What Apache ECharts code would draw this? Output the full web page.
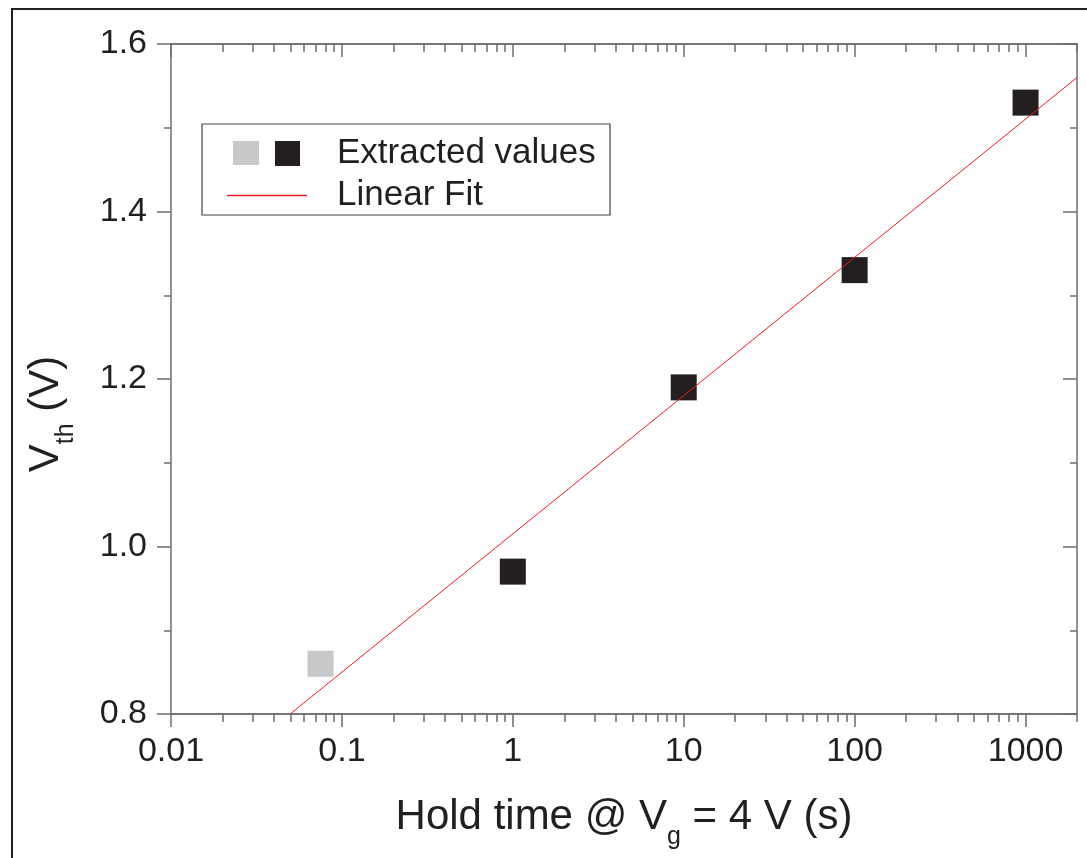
<!DOCTYPE html>
<html>

<head>
    <meta charset="UTF-8" />
    <script src="https://cdn.jsdelivr.net/npm/echarts@6/dist/echarts.min.js"></script>
</head>

<body style="margin: 0; overflow: hidden; background: #fff;">
    <div id="chart" style="width: 1087px; height: 858px;"></div>
    <script type="text/javascript">

        // data
        const holdTime = [0.075, 1, 10, 100, 1000];
        const vth = [0.86, 0.97, 1.19, 1.33, 1.53];
        const excluded = [true, false, false, false, false];   // grey point, not in fit
        const fitTime = [0.0498, 2000];
        const fitVth = [0.8, 1.56];
        const xTicks = [0.01, 0.1, 1, 10, 100, 1000];

        const font = 'Liberation Sans, Arial, sans-serif';
        const ink = '#231f20';
        const grey = '#c7c8ca';
        const red = '#ed1c24';
        const axisColor = '#6d6e71';

        // log minor ticks 2..9 in each decade
        const xMinor = [];
        xTicks.forEach(d => {
            for (let k = 2; k <= 9; k++) {
                const v = +(d * k).toPrecision(3);
                if (v <= 2000) xMinor.push(v);
            }
        });

        function xAxis(grid, pos, ticks, len, inside, showLabel) {
            return {
                type: 'log', logBase: 10, min: 0.01, max: 2000,
                gridIndex: grid, position: pos,
                axisLine: { show: true, onZero: false, lineStyle: { color: axisColor, width: 1.5 } },
                axisTick: { show: true, inside: inside, length: len, customValues: ticks, lineStyle: { color: axisColor, width: 1.5 } },
                axisLabel: {
                    show: showLabel, customValues: ticks, margin: 21,
                    fontSize: 34, fontFamily: font, color: ink,
                    formatter: v => String(v)
                },
                splitLine: { show: false },
                minorTick: { show: false }
            };
        }

        function yAxis(grid, pos, inside, show) {
            return {
                type: 'value', min: 0.8, max: 1.6, interval: 0.2,
                gridIndex: grid, position: pos, show: show,
                axisLine: { show: true, lineStyle: { color: axisColor, width: 1.5 } },
                axisTick: { show: true, inside: inside, length: 14, lineStyle: { color: axisColor, width: 1.5 } },
                minorTick: { show: true, splitNumber: 2, length: 7, lineStyle: { color: axisColor, width: 1.5 } },
                axisLabel: {
                    show: pos === 'left', margin: 24,
                    fontSize: 34, fontFamily: font, color: ink,
                    formatter: v => v.toFixed(1)
                },
                splitLine: { show: false }
            };
        }

        const titleRich = {
            m: { fontSize: 42, lineHeight: 66, fontFamily: font, color: ink },
            s: { fontSize: 25, lineHeight: 25, verticalAlign: 'bottom', fontFamily: font, color: ink }
        };

        const bottomX = xAxis(0, 'bottom', xTicks, 13, false, true);
        bottomX.name = '{m|Hold time @ V}{s|g}{m| = 4 V (s)}';
        bottomX.nameLocation = 'middle';
        bottomX.nameGap = 70;
        bottomX.nameTextStyle = { rich: titleRich };

        const leftY = yAxis(0, 'left', false, true);
        leftY.name = '{m|V}{s|th}{m| (V)}';
        leftY.nameLocation = 'middle';
        leftY.nameGap = 92;
        leftY.nameTextStyle = { padding: [0, 70, 0, 0], rich: titleRich };

        const gridBox = { left: 171, right: 10, top: 44, bottom: 144, outerBoundsMode: 'none' };

        const chart = echarts.init(document.getElementById('chart'));

        const option = {
            animation: false,
            backgroundColor: '#fff',
            grid: [Object.assign({}, gridBox), Object.assign({}, gridBox)],
            xAxis: [
                bottomX,
                xAxis(0, 'top', xTicks, 13, true, false),
                xAxis(1, 'bottom', xMinor, 8, false, false),
                xAxis(1, 'top', xMinor, 8, true, false)
            ],
            yAxis: [
                leftY,
                yAxis(0, 'right', true, true),
                yAxis(1, 'left', false, false)
            ],
            legend: [
                {
                    data: [{ name: 'Extracted values', icon: 'rect' }],
                    left: 275, top: 136, padding: 0,
                    itemWidth: 25, itemHeight: 25, selectedMode: false,
                    itemStyle: { opacity: 1 },
                    textStyle: { fontSize: 35, lineHeight: 34, fontFamily: font, color: ink, padding: [0, 0, 0, 32] }
                },
                {
                    data: [{ name: 'Linear Fit', icon: 'rect' }],
                    left: 227, top: 178, padding: 0,
                    itemWidth: 80, itemHeight: 1.5, selectedMode: false,
                    itemStyle: { color: red, opacity: 1 },
                    textStyle: { fontSize: 35, lineHeight: 34, fontFamily: font, color: ink, padding: [0, 0, 0, 25] }
                }
            ],
            graphic: [
                // outer frame (cropped)
                { type: 'rect', silent: true, z: -10, shape: { x: 12, y: 9, width: 1100, height: 900 },
                  style: { fill: 'none', stroke: ink, lineWidth: 2 } },
                // legend box
                { type: 'rect', silent: true, z: 10, shape: { x: 202, y: 124, width: 408, height: 91 },
                  style: { fill: 'none', stroke: '#444', lineWidth: 1.2 } },
                // grey legend square
                { type: 'rect', silent: true, z: 10, shape: { x: 233, y: 141, width: 26, height: 24 },
                  style: { fill: grey } }
            ],
            series: [
                {
                    name: 'Linear Fit',
                    type: 'line',
                    xAxisIndex: 0, yAxisIndex: 0,
                    data: fitTime.map((t, i) => [t, fitVth[i]]),
                    symbol: 'none',
                    lineStyle: { color: red, width: 1 },
                    itemStyle: { color: red },
                    z: 3
                },
                {
                    name: 'Extracted values',
                    type: 'scatter',
                    xAxisIndex: 0, yAxisIndex: 0,
                    symbol: 'rect',
                    symbolSize: 26,
                    itemStyle: { color: ink, opacity: 1 },
                    data: holdTime.map((t, i) => ({
                        value: [t, vth[i]],
                        itemStyle: { color: excluded[i] ? grey : ink, opacity: 1 }
                    })),
                    z: 2
                }
            ]
        };

        chart.setOption(option);

    </script>
</body>

</html>
